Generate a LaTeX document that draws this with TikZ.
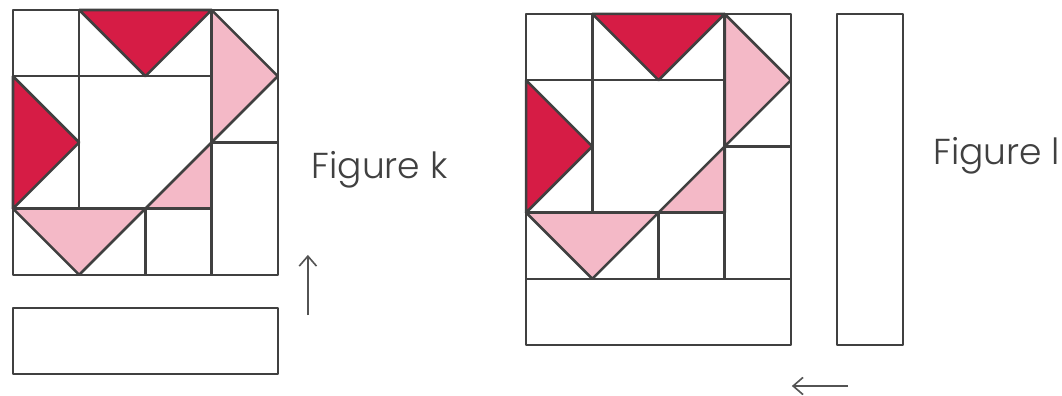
\documentclass[tikz,border=0pt]{standalone}
\usepackage{fontspec}
\IfFontExistsTF{Poppins Light}{\setmainfont{Poppins Light}}{\setmainfont{Poppins}}
\usepackage{tikz}
\usetikzlibrary{arrows.meta}
\definecolor{quiltRed}{HTML}{D61C45}
\definecolor{quiltPink}{HTML}{F4B9C7}
\definecolor{seamGray}{HTML}{404040}
\tikzset{
    >={Straight Barb[length=1.5mm, width=2.6mm]},
    % Patches
    seam/.style={draw=seamGray, line width=1.1pt, line join=round},
    darkPatch/.style={seam, fill=quiltRed},
    lightPatch/.style={seam, fill=quiltPink},
    % Labels & moves
    lbl/.style={font=\fontsize{15.5}{18}\selectfont, text=seamGray, anchor=base west, inner sep=0pt},
    move/.style={->, line width=0.7pt, draw=seamGray!90},
    % One quilt block, 4 x 4 units, origin at its top left corner
    pics/quiltblock/.style={code={
        \filldraw[darkPatch] (1,0) -- (3,0) -- (2,-1) -- cycle;
        \filldraw[lightPatch] (3,0) -- (4,-1) -- (3,-2) -- cycle;
        \filldraw[darkPatch] (0,-1) -- (1,-2) -- (0,-3) -- cycle;
        \filldraw[lightPatch] (0,-3) -- (2,-3) -- (1,-4) -- cycle;
        \filldraw[lightPatch] (2,-3) -- (3,-2) -- (3,-3) -- cycle;
        \draw[seam] (0,0) rectangle (4,-4);
        \draw[seam] (1,0) -- (1,-3);
        \draw[seam] (3,0) -- (3,-4);
        \draw[seam] (2,-3) -- (2,-4);
        \draw[seam] (0,-1) -- (3,-1);
        \draw[seam] (0,-3) -- (3,-3);
        \draw[seam] (3,-2) -- (4,-2);
    }}
}
\begin{document}
\begin{tikzpicture}
\useasboundingbox (0,0) rectangle (16.04,-5.98);

% Figure k
\pic (blockK) at (0.196,-0.151) {quiltblock};
\draw[seam] (0.196,-4.65) rectangle +(4,-1) coordinate (stripK);
\node[lbl] (figK) at (4.70,-2.70) {Figure k};
\coordinate (upTail) at (4.65,-4.76);
\coordinate (upTip) at (4.65,-3.85);
\draw[move] (upTail) -- (upTip);

% Figure l
\pic (blockL) at (7.946,-0.211) {quiltblock};
\draw[seam] (7.946,-4.211) rectangle +(4,-1) coordinate (stripL);
\draw[seam] (12.64,-0.211) rectangle +(1,-5) coordinate (sideL);
\node[lbl] (figL) at (14.09,-2.48) {Figure l};
\coordinate (leftTail) at (12.81,-5.83);
\coordinate (leftTip) at (11.96,-5.83);
\draw[move] (leftTail) -- (leftTip);

\end{tikzpicture}
\end{document}
